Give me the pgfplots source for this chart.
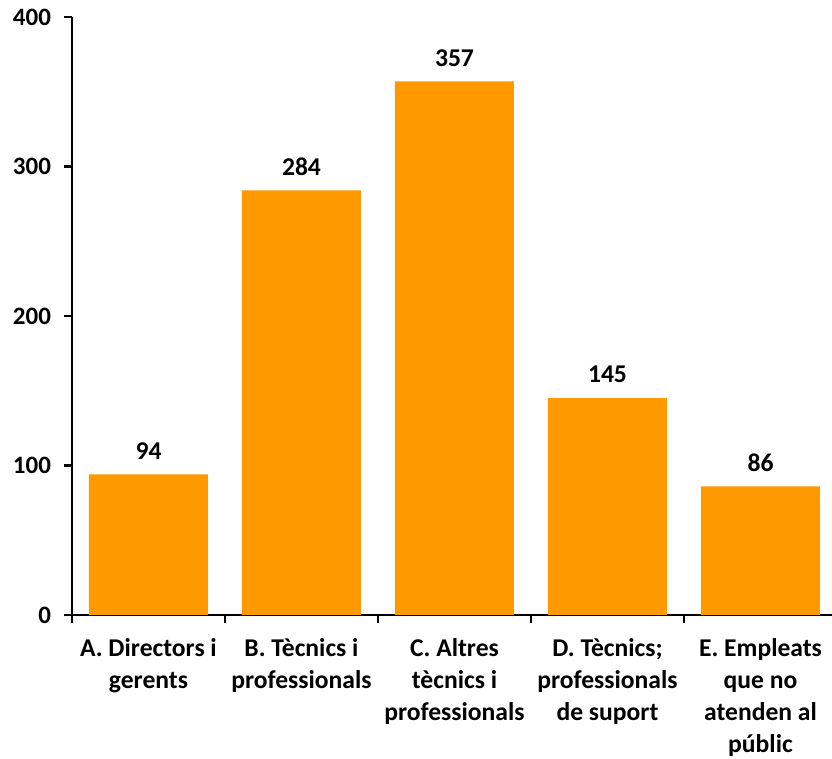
\documentclass[border=0pt]{standalone}
\usepackage{pgfplots}
\pgfplotsset{compat=1.18}
\usepackage{fontspec}
\setmainfont{Carlito}
\definecolor{barorange}{RGB}{255,153,0}

\begin{document}
\begin{tikzpicture}
\begin{axis}[
  scale only axis,
  width=382.5pt, height=299pt,
  xmin=-0.5, xmax=4.5,
  ymin=0, ymax=400,
  axis x line*=bottom, axis y line*=left,
  axis line style={line width=1.2pt, black},
  every outer x axis line/.append style={-},
  every outer y axis line/.append style={-},
  ytick={0,100,200,300,400},
  yticklabels={0,100,200,300,400},
  xtick={0,1,2,3,4},
  xticklabels={A. Directors i\\gerents, B. Tècnics i\\professionals, C. Altres\\tècnics i\\professionals, D. Tècnics;\\professionals\\de suport, E. Empleats\\que no\\atenden al\\públic},
  major x tick style={draw=none},
  minor xtick={-0.5,0.5,1.5,2.5,3.5,4.5},
  tick align=outside,
  major tick length=4pt, minor tick length=4pt,
  tick style={line width=1.2pt, black},
  yticklabel style={font=\bfseries\fontsize{12.5}{14}\selectfont, xshift=-3pt},
  xticklabel style={font=\bfseries\fontsize{12.8}{16}\selectfont, align=center, anchor=north, yshift=-4pt},
  clip=false,
]
\addplot[ybar, bar width=59.5pt, fill=barorange, draw=none,
  nodes near coords, point meta=explicit symbolic,
  every node near coord/.append style={font=\bfseries\fontsize{12.8}{14}\selectfont, black, yshift=4pt}]
  coordinates {(0,94)[94] (1,284)[284] (2,357)[357] (3,145)[145] (4,86)[86]};
\end{axis}
\pgfresetboundingbox
\path[use as bounding box] (-36pt,-72pt) rectangle (380pt,307.5pt);
\end{tikzpicture}
\end{document}
